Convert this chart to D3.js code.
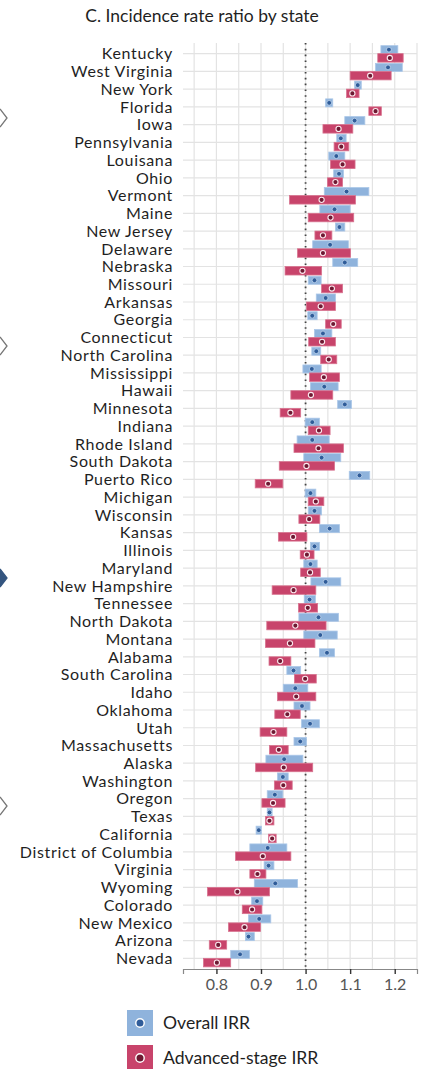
<!DOCTYPE html>
<html>
<head>
<meta charset="utf-8">
<script src="https://cdn.jsdelivr.net/npm/d3@7"></script>
<style>
  html, body { margin: 0; padding: 0; background: #fff; }
  svg { display: block; }
</style>
</head>
<body>
<svg id="chart" width="428" height="1069"></svg>
<script>
// States, top to bottom
const states = ["Kentucky","West Virginia","New York","Florida","Iowa","Pennsylvania","Louisana","Ohio","Vermont","Maine","New Jersey","Delaware","Nebraska","Missouri","Arkansas","Georgia","Connecticut","North Carolina","Mississippi","Hawaii","Minnesota","Indiana","Rhode Island","South Dakota","Puerto Rico","Michigan","Wisconsin","Kansas","Illinois","Maryland","New Hampshire","Tennessee","North Dakota","Montana","Alabama","South Carolina","Idaho","Oklahoma","Utah","Massachusetts","Alaska","Washington","Oregon","Texas","California","District of Columbia","Virginia","Wyoming","Colorado","New Mexico","Arizona","Nevada"];

// Overall IRR: estimate, lower, upper
const overallEst = [1.187,1.185,1.117,1.053,1.110,1.079,1.069,1.075,1.092,1.065,1.076,1.055,1.088,1.020,1.045,1.015,1.039,1.024,1.014,1.042,1.088,1.015,1.015,1.036,1.121,1.011,1.020,1.054,1.020,1.011,1.045,1.009,1.029,1.033,1.048,0.973,0.977,0.992,1.010,0.988,0.952,0.949,0.931,0.919,0.895,0.915,0.917,0.932,0.891,0.896,0.872,0.853];
const overallLo  = [1.169,1.157,1.110,1.045,1.088,1.070,1.052,1.063,1.042,1.032,1.067,1.016,1.061,1.006,1.024,1.005,1.020,1.014,0.994,1.011,1.072,0.999,0.981,0.996,1.098,0.999,1.006,1.031,1.011,0.996,1.012,0.997,0.985,0.996,1.031,0.958,0.950,0.974,0.991,0.974,0.911,0.937,0.914,0.914,0.889,0.875,0.907,0.885,0.879,0.872,0.865,0.832];
const overallHi  = [1.207,1.217,1.125,1.061,1.133,1.091,1.088,1.085,1.142,1.100,1.088,1.096,1.117,1.035,1.067,1.026,1.059,1.034,1.035,1.073,1.103,1.031,1.053,1.079,1.144,1.023,1.036,1.076,1.031,1.026,1.079,1.022,1.074,1.071,1.065,0.989,1.005,1.010,1.031,1.002,0.994,0.961,0.949,0.925,0.901,0.958,0.929,0.982,0.904,0.922,0.885,0.874];

// Advanced-stage IRR: estimate, lower, upper
const advEst = [1.189,1.145,1.105,1.157,1.074,1.080,1.083,1.067,1.036,1.056,1.039,1.039,0.993,1.059,1.034,1.062,1.037,1.052,1.041,1.012,0.966,1.030,1.029,1.002,0.916,1.023,1.008,0.972,1.003,1.010,0.973,1.005,0.977,0.965,0.943,0.999,0.979,0.959,0.928,0.940,0.951,0.950,0.927,0.919,0.925,0.904,0.892,0.847,0.880,0.863,0.804,0.801];
const advLo  = [1.162,1.100,1.092,1.142,1.039,1.064,1.056,1.049,0.964,1.006,1.021,0.982,0.954,1.036,1.002,1.045,1.007,1.034,1.009,0.967,0.943,1.006,0.974,0.941,0.887,1.006,0.985,0.939,0.988,0.989,0.925,0.984,0.913,0.910,0.918,0.975,0.937,0.931,0.898,0.919,0.888,0.930,0.902,0.910,0.917,0.843,0.875,0.780,0.858,0.827,0.784,0.771];
const advHi  = [1.219,1.192,1.120,1.170,1.106,1.097,1.111,1.083,1.112,1.108,1.059,1.101,1.036,1.083,1.067,1.080,1.067,1.070,1.076,1.061,0.989,1.055,1.085,1.065,0.949,1.041,1.032,1.003,1.019,1.033,1.023,1.027,1.046,1.021,0.967,1.024,1.023,0.988,0.958,0.961,1.016,0.970,0.954,0.929,0.934,0.967,0.911,0.919,0.902,0.899,0.823,0.832];

const xTicks = [0.8, 0.9, 1.0, 1.1, 1.2];
const gridValues = [0.75,0.8,0.85,0.9,0.95,1.0,1.05,1.1,1.15,1.2,1.25];

const legendItems = ["Overall IRR", "Advanced-stage IRR"];

const colors = {
  blueBar: "#8fb3dc", blueEdge: "#abc7e8", blueDot: "#2f5c99",
  redBar: "#c8446b", redEdge: "#d8738f", redDot: "#6e1832",
  grid: "#e3e3e3", text: "#1f1f1f", tick: "#555"
};

const FONT = "Lato, 'Open Sans', sans-serif";
const svg = d3.select("#chart");

const panel = { left: 183, right: 417, top: 43, bottom: 969 };

const x = d3.scaleLinear().domain([0.725, 1.25]).range([panel.left, panel.right]);
const y = d3.scalePoint().domain(states).range([panel.top, panel.bottom]).padding(0.6);

// Edge of the neighbouring panel, clipped at the left margin
const edge = svg.append("g").attr("stroke-width", 1.3);
[[118, false], [346, false], [578, true], [806, false]].forEach(([cy, filled]) => {
  edge.append("path")
    .attr("d", `M0,${cy - 9} L7,${cy} L0,${cy + 9}`)
    .attr("fill", filled ? "#34557f" : "none")
    .attr("stroke", filled ? "#34557f" : "#777");
});

// Title
svg.append("text")
  .attr("x", 202).attr("y", 22)
  .attr("text-anchor", "middle")
  .attr("font-family", FONT).attr("font-size", 17.5)
  .attr("fill", colors.text)
  .text("C. Incidence rate ratio by state");

// Grid
const g = svg.append("g");
g.selectAll("line.vgrid").data(gridValues).join("line")
  .attr("x1", d => x(d)).attr("x2", d => x(d))
  .attr("y1", panel.top).attr("y2", panel.bottom)
  .attr("stroke", colors.grid).attr("stroke-width", 1.2);
g.selectAll("line.hgrid").data(states).join("line")
  .attr("x1", panel.left).attr("x2", panel.right)
  .attr("y1", d => y(d)).attr("y2", d => y(d))
  .attr("stroke", colors.grid).attr("stroke-width", 1.2);

// Reference line at IRR = 1
svg.append("line")
  .attr("x1", x(1)).attr("x2", x(1))
  .attr("y1", panel.top).attr("y2", panel.bottom)
  .attr("stroke", "#444").attr("stroke-width", 1.8)
  .attr("stroke-dasharray", "1.6,4.2");

// Rows
const rows = states.map((s, i) => ({
  s, oE: overallEst[i], oL: overallLo[i], oH: overallHi[i],
  aE: advEst[i], aL: advLo[i], aH: advHi[i]
}));

const marks = svg.append("g");
// overall bars (upper half of each row)
marks.selectAll("rect.ov").data(rows).join("rect")
  .attr("x", d => x(d.oL)).attr("width", d => x(d.oH) - x(d.oL))
  .attr("y", d => y(d.s) - 8).attr("height", 8)
  .attr("fill", colors.blueBar).attr("stroke", colors.blueEdge).attr("stroke-width", 0.8);
// advanced-stage bars (lower half)
marks.selectAll("rect.adv").data(rows).join("rect")
  .attr("x", d => x(d.aL)).attr("width", d => x(d.aH) - x(d.aL))
  .attr("y", d => y(d.s)).attr("height", 8.5)
  .attr("fill", colors.redBar).attr("stroke", colors.redEdge).attr("stroke-width", 0.8);
// point estimates
marks.selectAll("circle.ov").data(rows).join("circle")
  .attr("cx", d => x(d.oE)).attr("cy", d => y(d.s) - 4)
  .attr("r", 2.4).attr("fill", colors.blueDot)
  .attr("stroke", "#c9dbf0").attr("stroke-width", 0.7);
marks.selectAll("circle.adv").data(rows).join("circle")
  .attr("cx", d => x(d.aE)).attr("cy", d => y(d.s) + 4.3)
  .attr("r", 2.6).attr("fill", colors.redDot)
  .attr("stroke", "#fbe9ee").attr("stroke-width", 1.1);

// State labels
svg.append("g").selectAll("text").data(states).join("text")
  .attr("x", 173).attr("y", d => y(d))
  .attr("dy", "0.36em")
  .attr("text-anchor", "end")
  .attr("font-family", FONT).attr("font-size", 16)
  .attr("letter-spacing", 0.65)
  .attr("fill", colors.text)
  .text(d => d);

// X axis
const axis = svg.append("g")
  .attr("transform", `translate(0,${panel.bottom})`)
  .call(d3.axisBottom(x).tickValues(xTicks).tickFormat(d3.format(".1f")).tickSize(5).tickPadding(5));
axis.select(".domain").attr("stroke", "#888").attr("stroke-width", 1.2);
axis.selectAll(".tick line").attr("stroke", "#333").attr("stroke-width", 1.4);
axis.selectAll(".tick text")
  .attr("font-family", FONT).attr("font-size", 16)
  .attr("fill", colors.tick);

// Legend
const legend = svg.append("g").attr("transform", "translate(127,1010)");
const legendColors = [[colors.blueBar, colors.blueDot], [colors.redBar, colors.redDot]];
legendItems.forEach((label, i) => {
  const row = legend.append("g").attr("transform", `translate(0,${i * 35})`);
  row.append("rect").attr("width", 26).attr("height", 26)
    .attr("fill", legendColors[i][0]);
  row.append("circle").attr("cx", 13).attr("cy", 13).attr("r", 4.2)
    .attr("fill", legendColors[i][1]).attr("stroke", "#fff").attr("stroke-width", 1.4);
  row.append("text").attr("x", 36).attr("y", 13).attr("dy", "0.36em")
    .attr("font-family", FONT).attr("font-size", 17.6)
    .attr("fill", colors.text).text(label);
});
</script>
</body>
</html>
